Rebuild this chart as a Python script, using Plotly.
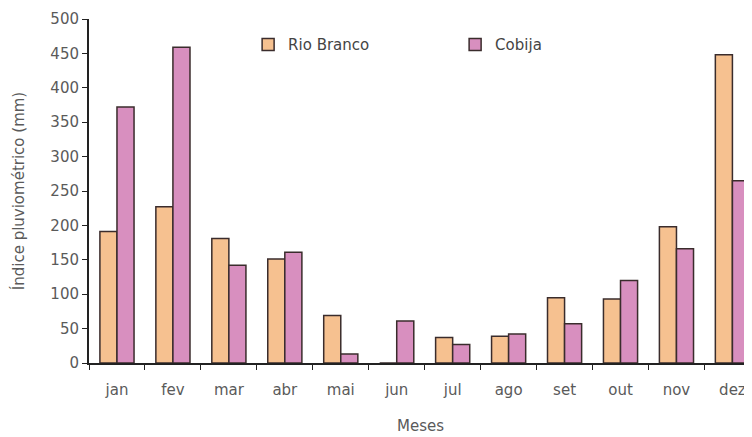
import plotly.graph_objects as go

meses = ["jan", "fev", "mar", "abr", "mai", "jun", "jul", "ago", "set", "out", "nov", "dez"]
rio_branco = [191, 227, 181, 151, 69, 0, 37, 39, 95, 93, 198, 448]
cobija = [372, 459, 142, 161, 13, 61, 27, 42, 57, 120, 166, 265]
y_ticks = list(range(0, 501, 50))

fig = go.Figure()
fig.add_trace(go.Bar(
    x=meses, y=rio_branco, name="Rio Branco",
    marker=dict(color="#F6C190", line=dict(color="#3a2c2c", width=1.5)),
))
fig.add_trace(go.Bar(
    x=meses, y=cobija, name="Cobija",
    marker=dict(color="#D88FBF", line=dict(color="#3a2c2c", width=1.5)),
))

# page body has an 8px margin, so the figure is sized and padded to compensate
fig.update_layout(
    width=744, height=429,
    barmode="group", bargap=0.39, bargroupgap=0,
    paper_bgcolor="white", plot_bgcolor="white",
    font=dict(family="DejaVu Sans", size=15, color="#5a5a5a"),
    margin=dict(l=81, r=0, t=11, b=74),
    legend=dict(
        orientation="h", x=0.24, y=0.925, xanchor="left", yanchor="middle",
        entrywidth=162, entrywidthmode="pixels",
        font=dict(size=15, color="#444444"), bgcolor="rgba(0,0,0,0)",
    ),
)
fig.update_xaxes(
    range=[-0.5, 11.35], showline=True, linecolor="#222222", linewidth=2,
    ticks="outside", tickson="boundaries", ticklen=5, tickcolor="#222222",
    ticklabelstandoff=12, showgrid=False, fixedrange=True, automargin=False,
    title=dict(text="Meses", font=dict(size=15, color="#5a5a5a"), standoff=22),
)
fig.update_yaxes(
    range=[0, 500], tickvals=y_ticks, showline=True, linecolor="#222222", linewidth=2,
    ticks="outside", ticklen=5, tickcolor="#222222", showgrid=False, zeroline=False,
    fixedrange=True, automargin=False,
    title=dict(text="Índice pluviométrico (mm)", font=dict(size=15, color="#5a5a5a"), standoff=22),
)

fig.write_html("out.html")
